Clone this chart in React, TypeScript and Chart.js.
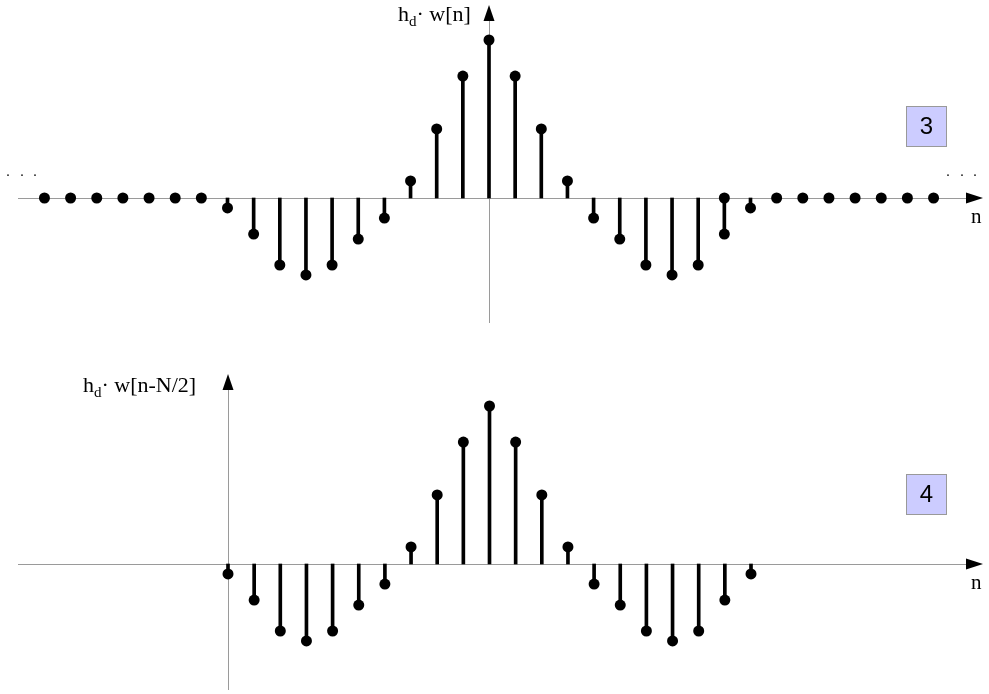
import React, { useEffect, useRef } from "react";
import { Chart, registerables } from "chart.js";

Chart.register(...registerables);

// Panel 3: h_d · w[n], n = -17 .. 17
const topN = [-17, -16, -15, -14, -13, -12, -11, -10, -9, -8, -7, -6, -5, -4, -3, -2, -1, 0, 1, 2, 3, 4, 5, 6, 7, 8, 9, 10, 11, 12, 13, 14, 15, 16, 17];
const topValues = [0, 0, 0, 0, 0, 0, 0, -0.063, -0.228, -0.424, -0.487, -0.424, -0.26, -0.127, 0.108, 0.437, 0.772, 1, 0.772, 0.437, 0.108, -0.127, -0.26, -0.424, -0.487, -0.424, -0.228, -0.063, 0, 0, 0, 0, 0, 0, 0];
// stray extra dot drawn on the axis in the original figure
const topExtraN = [9];
const topExtraValues = [0];

// Panel 4: h_d · w[n-N/2], n = 0 .. 20
const bottomN = [0, 1, 2, 3, 4, 5, 6, 7, 8, 9, 10, 11, 12, 13, 14, 15, 16, 17, 18, 19, 20];
const bottomValues = [-0.063, -0.228, -0.424, -0.487, -0.424, -0.26, -0.127, 0.108, 0.437, 0.772, 1, 0.772, 0.437, 0.108, -0.127, -0.26, -0.424, -0.487, -0.424, -0.228, -0.063];

const topLabel = "w[n]";
const bottomLabel = "w[n-N/2]";
const topBoxText = "3";
const bottomBoxText = "4";

const W = 989;
const H = 347;

type PanelCfg = {
  n: number[];
  v: number[];
  extraN: number[];
  extraV: number[];
  xMin: number;
  xMax: number;
  yMin: number;
  yMax: number;
  label: string;
  labelX: number;
  labelBase: number;
  arrowTip: number;
  yAxisEnd: number;
  box: string;
  boxY: number;
  ellipsis: boolean;
};

function makePlugin(cfg: PanelCfg) {
  return {
    id: "stemDecor",
    beforeDatasetsDraw(chart: any) {
      const ctx = chart.ctx;
      const xs = chart.scales.x;
      const ys = chart.scales.y;
      const y0 = ys.getPixelForValue(0);
      const x0 = xs.getPixelForValue(0);
      ctx.save();
      ctx.strokeStyle = "#9a9a9a";
      ctx.lineWidth = 1;
      // x axis
      ctx.beginPath();
      ctx.moveTo(18, Math.round(y0) + 0.5);
      ctx.lineTo(968, Math.round(y0) + 0.5);
      ctx.stroke();
      // y axis
      ctx.beginPath();
      ctx.moveTo(Math.round(x0) + 0.5, cfg.arrowTip + 12);
      ctx.lineTo(Math.round(x0) + 0.5, cfg.yAxisEnd);
      ctx.stroke();
      // arrows
      ctx.fillStyle = "#000";
      ctx.beginPath();
      ctx.moveTo(983, y0);
      ctx.lineTo(966, y0 - 5.5);
      ctx.lineTo(966, y0 + 5.5);
      ctx.closePath();
      ctx.fill();
      ctx.beginPath();
      ctx.moveTo(x0, cfg.arrowTip);
      ctx.lineTo(x0 - 5.5, cfg.arrowTip + 16);
      ctx.lineTo(x0 + 5.5, cfg.arrowTip + 16);
      ctx.closePath();
      ctx.fill();
      ctx.restore();
    },
    afterDraw(chart: any) {
      const ctx = chart.ctx;
      const ys = chart.scales.y;
      const y0 = ys.getPixelForValue(0);
      ctx.save();
      ctx.fillStyle = "#000";
      ctx.textBaseline = "alphabetic";
      ctx.textAlign = "left";
      // axis label
      let x = cfg.labelX;
      ctx.font = '22px "Liberation Serif"';
      ctx.fillText("h", x, cfg.labelBase);
      x += ctx.measureText("h").width;
      ctx.font = '15px "Liberation Serif"';
      ctx.fillText("d", x, cfg.labelBase + 5);
      x += ctx.measureText("d").width;
      ctx.font = '22px "Liberation Serif"';
      ctx.fillText("· " + cfg.label, x, cfg.labelBase);
      // n label
      ctx.font = '21px "Liberation Serif"';
      ctx.fillText("n", 971, y0 + 25);
      // ellipsis
      if (cfg.ellipsis) {
        ctx.font = '14px "Liberation Serif"';
        ctx.textAlign = "center";
        [8, 22, 35, 948, 962, 975].forEach((px) => ctx.fillText(".", px, y0 - 22));
      }
      // numbered box
      ctx.fillStyle = "#ccccff";
      ctx.fillRect(906.5, cfg.boxY + 0.5, 40, 40);
      ctx.strokeStyle = "#999999";
      ctx.lineWidth = 1;
      ctx.strokeRect(906.5, cfg.boxY + 0.5, 40, 40);
      ctx.fillStyle = "#000";
      ctx.font = '24px "Liberation Sans"';
      ctx.textAlign = "center";
      ctx.textBaseline = "middle";
      ctx.fillText(cfg.box, 926.5, cfg.boxY + 21);
      ctx.restore();
    },
  };
}

function Panel({ cfg }: { cfg: PanelCfg }) {
  const ref = useRef<HTMLCanvasElement>(null);
  useEffect(() => {
    if (!ref.current) return;
    const stems = cfg.n.map((n, i) => ({ x: n, y: cfg.v[i] }));
    const dots = stems.slice();
    const extra = cfg.extraN.map((n, i) => ({ x: n, y: cfg.extraV[i] }));
    const chart = new Chart(ref.current, {
      type: "bar",
      data: {
        datasets: [
          {
            type: "scatter",
            data: dots.concat(extra),
            pointRadius: 5.5,
            pointBackgroundColor: "#000",
            pointBorderWidth: 0,
            borderColor: "#000",
            showLine: false,
            order: 0,
            clip: false,
          } as any,
          {
            type: "bar",
            data: stems,
            backgroundColor: "#000",
            barThickness: 3,
            borderWidth: 0,
            order: 1,
            clip: false,
          } as any,
        ],
      },
      options: {
        responsive: false,
        animation: false,
        devicePixelRatio: 1,
        layout: { padding: 0, autoPadding: false },
        plugins: { legend: { display: false }, tooltip: { enabled: false } },
        events: [],
        scales: {
          x: { type: "linear", display: false, offset: false, min: cfg.xMin, max: cfg.xMax },
          y: { type: "linear", display: false, offset: false, grace: 0, min: cfg.yMin, max: cfg.yMax },
        },
      },
      plugins: [makePlugin(cfg)],
    });
    return () => chart.destroy();
  }, []);
  return <canvas ref={ref} width={W} height={H} style={{ display: "block", width: W, height: H }} />;
}

const STEP = 26.15;
const UNIT = 158;

const topCfg: PanelCfg = {
  n: topN,
  v: topValues,
  extraN: topExtraN,
  extraV: topExtraValues,
  xMin: -489 / STEP,
  xMax: (W - 489) / STEP,
  yMin: -(H - 198) / UNIT,
  yMax: 198 / UNIT,
  label: topLabel,
  labelX: 398,
  labelBase: 21,
  arrowTip: 5,
  yAxisEnd: 323,
  box: topBoxText,
  boxY: 106,
  ellipsis: true,
};

const bottomCfg: PanelCfg = {
  n: bottomN,
  v: bottomValues,
  extraN: [],
  extraV: [],
  xMin: -228 / STEP,
  xMax: (W - 228) / STEP,
  yMin: -(H - 217) / UNIT,
  yMax: 217 / UNIT,
  label: bottomLabel,
  labelX: 83,
  labelBase: 45,
  arrowTip: 27,
  yAxisEnd: 343,
  box: bottomBoxText,
  boxY: 127,
  ellipsis: false,
};

export default function App() {
  useEffect(() => {
    document.body.style.margin = "0";
  }, []);
  return (
    <div style={{ width: W, background: "#fff" }}>
      <Panel cfg={topCfg} />
      <Panel cfg={bottomCfg} />
    </div>
  );
}
